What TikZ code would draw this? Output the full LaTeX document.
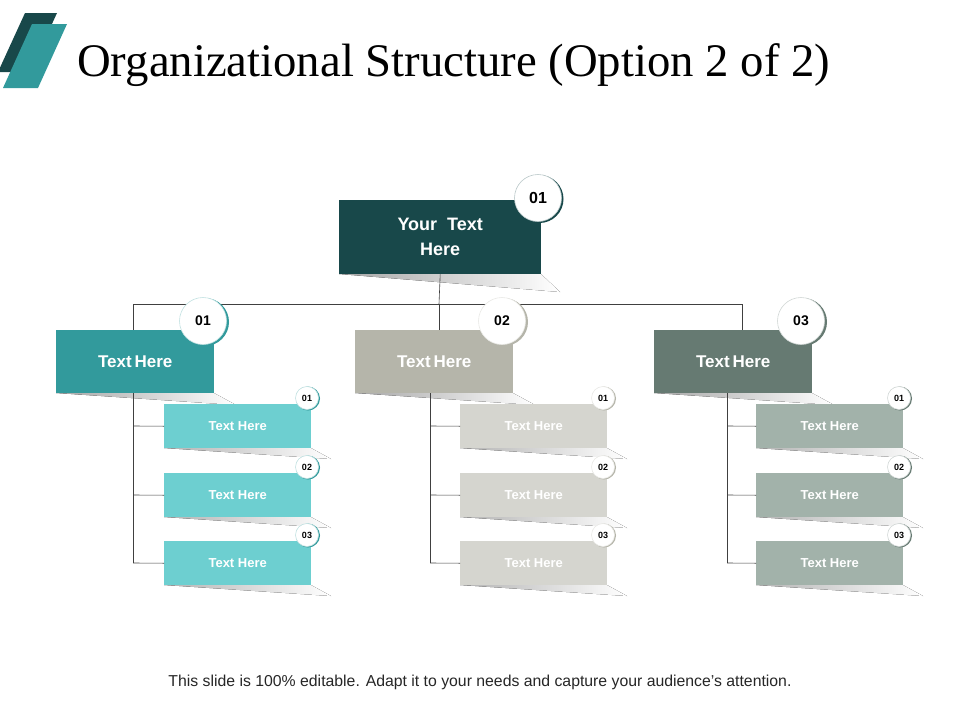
\documentclass[tikz,border=0pt]{standalone}
\usepackage{fontspec}
\setmainfont{Liberation Serif}
\setsansfont{Liberation Sans}
\begin{document}
\begin{tikzpicture}[x=1pt,y=-1pt,
  lbl/.style={font=\sffamily\bfseries,text=white,align=center,inner sep=0pt},
  numc/.style={circle,fill=white,draw=#1,line width=0.6pt,inner sep=0pt,font=\sffamily\bfseries},
  conn/.style={draw=black!75,line width=0.6pt}]
\definecolor{cTop}{HTML}{18484A}
\definecolor{cA}{HTML}{329A9C}\definecolor{cB}{HTML}{B5B5AA}\definecolor{cC}{HTML}{667A72}
\definecolor{sA}{HTML}{6DCFD0}\definecolor{sB}{HTML}{D5D5CF}\definecolor{sC}{HTML}{A2B2AA}
\useasboundingbox (0,0) rectangle (960,720);
% logo
\fill[cTop] (25,13) -- (57,13) -- (30,72) -- (-2,72) -- cycle;
\fill[cA] (32,24) -- (67,24) -- (38,88) -- (3,88) -- cycle;
\node[anchor=base west,inner sep=0pt] (title) at (77,76) {\resizebox{753pt}{!}{\fontsize{40}{44}\selectfont Organizational Structure (Option 2 of 2)}};
% top
\fill[left color=black!35,right color=white] (339,274) -- (541,274) -- (560,292) -- cycle;
\node[fill=cTop,minimum width=202pt,minimum height=74pt,anchor=north west,inner sep=0pt] (top) at (339,200) {};
\node[lbl,font=\sffamily\bfseries\fontsize{18}{25}\selectfont] at (top) {Your\ \ Text\\Here};
\fill[cTop] (539.5,199) circle (24);
\node[numc=cTop!30,minimum size=47pt,font=\sffamily\bfseries\fontsize{16}{16}\selectfont] (tc) at (538,198) {01};
% connectors
\coordinate (hl) at (133,304); \coordinate (hm) at (439,304); \coordinate (hr) at (742,304);
\draw[conn] (top.south) -- (hm); \draw[conn] (hl) -- (hr);
\foreach \n/\x/\c/\s/\num/\lx/\vx/\sx in {A/56/cA/sA/01/133/133/164,B/355/cB/sB/02/439/430/460,C/654/cC/sC/03/742/727/756}{
  \fill[left color=black!35,right color=white] (\x,393) -- (\x+158,393) -- (\x+180,405) -- cycle;
  \node[fill=\c,minimum width=158pt,minimum height=63pt,anchor=north west,inner sep=0pt] (m\n) at (\x,330) {};
  \draw[conn] (\lx,304) -- (\lx,330);
  \node[lbl,font=\sffamily\bfseries\fontsize{17}{20}\selectfont] at (m\n) {Text\,Here};
  \fill[\c] (\x+149,322) circle (24);
  \node[numc=\c!30,minimum size=47pt,font=\sffamily\bfseries\fontsize{14}{14}\selectfont] (c\n) at (\x+147,321) {\num};
  \foreach \y/\k in {404/01,473/02,541/03}{
    \fill[left color=black!30,right color=white] (\sx,\y+44) -- (\sx+147,\y+44) -- (\sx+167,\y+55) -- cycle;
    \node[fill=\s,minimum width=147pt,minimum height=44pt,anchor=north west,inner sep=0pt] (s\n\k) at (\sx,\y) {};
    \draw[conn] (\vx,\y+22) -- (s\n\k.west);
    \node[lbl,font=\sffamily\bfseries\fontsize{13}{13}\selectfont] at (s\n\k) {Text Here};
    \fill[\c] (\sx+144,\y-5.5) circle (12);
    \node[numc=\c!30,minimum size=23pt,font=\sffamily\bfseries\fontsize{9}{9}\selectfont] at (\sx+143,\y-6) {\k};
  }
  \draw[conn] (\vx,393) -- (\vx,563);
}
\node[font=\sffamily\fontsize{15.8}{16}\selectfont,text=black!85] (foot) at (480,682) {This slide is 100\% editable. Adapt it to your needs and capture your audience's attention.};
\end{tikzpicture}
\end{document}
